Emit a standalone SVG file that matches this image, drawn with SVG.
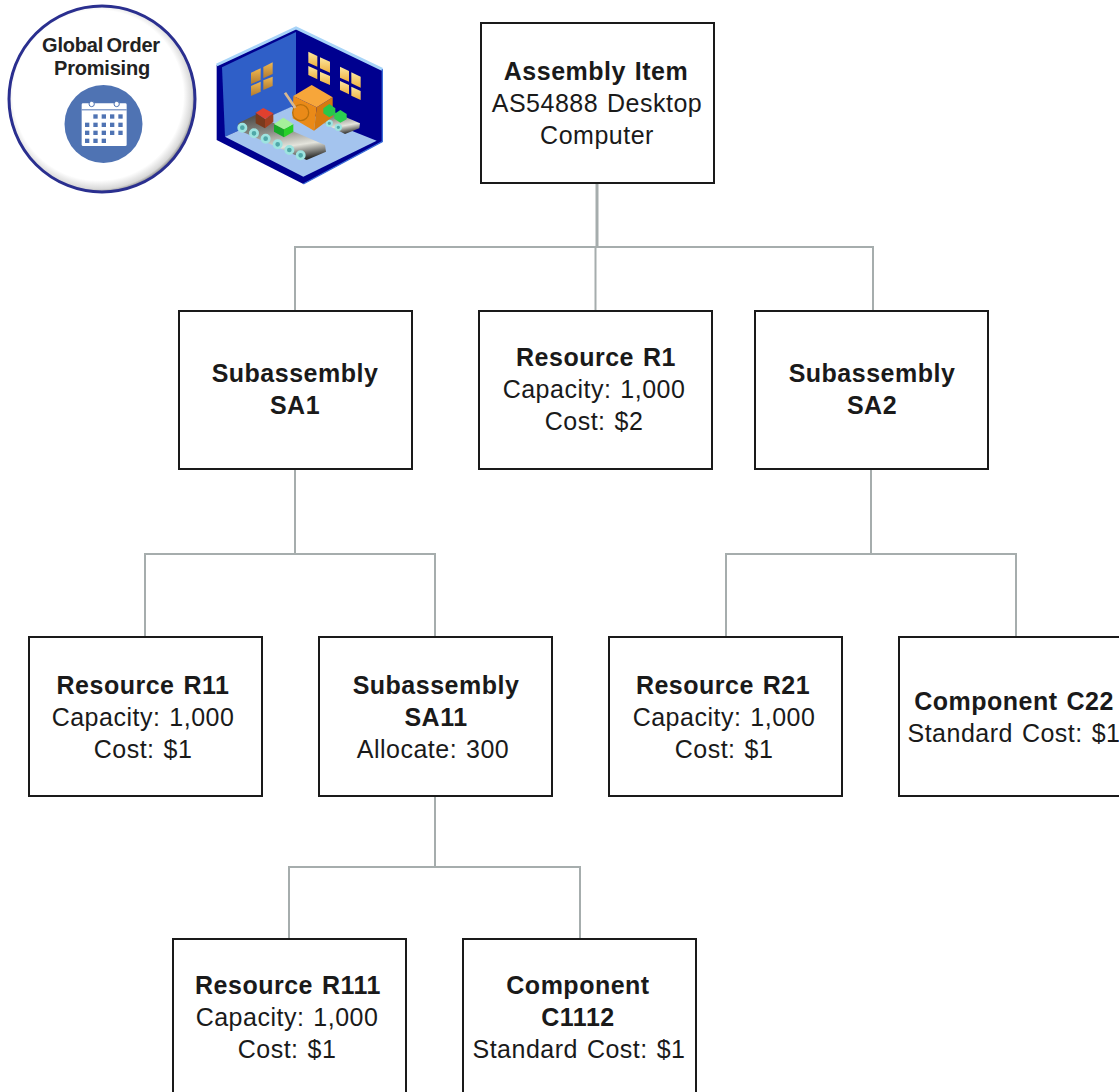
<svg xmlns="http://www.w3.org/2000/svg" width="1119" height="1092" viewBox="0 0 1119 1092">
<style>
.box{fill:#fff;stroke:#1a1a1a;stroke-width:2}
.c{fill:none;stroke:#a6adad;stroke-width:2}
text{font-family:"Liberation Sans",Arial,sans-serif;font-size:25px;fill:#1a1a1a;text-anchor:middle;letter-spacing:.5px;word-spacing:1.500px}
.b{font-weight:bold}
.s{font-size:20px;font-weight:bold;letter-spacing:-.2px;word-spacing:-2px;fill:#222}
.cal{fill:#4f73b3}
.roller{fill:#4fa8a8;stroke:#9ee4e0;stroke-width:8}
.rollerS{fill:#4fa8a8;stroke:#9ee4e0;stroke-width:6}
</style>
<defs>
<radialGradient id="halo" cx=".48" cy=".48" r=".52"><stop offset=".88" stop-color="#fff"/><stop offset=".97" stop-color="#d8d8d8"/><stop offset="1" stop-color="#999"/></radialGradient>
<linearGradient id="belt" x1=".35" y1="0" x2=".65" y2="1"><stop offset="0" stop-color="#55534f"/><stop offset=".35" stop-color="#8a8a84"/><stop offset=".7" stop-color="#e4e4dc"/><stop offset="1" stop-color="#2e2e2c"/></linearGradient>
<linearGradient id="tan" x1="0" y1="0" x2="0" y2="1"><stop offset="0" stop-color="#f0b850"/><stop offset="1" stop-color="#b07a30"/></linearGradient>
<linearGradient id="win" x1="0" y1="0" x2="0" y2="1"><stop offset="0" stop-color="#fce8a0"/><stop offset="1" stop-color="#eeb040"/></linearGradient>
</defs>
<rect width="1119" height="1092" fill="#fff"/>
<g id="connectors">
<path class="c" style="stroke-width:3" d="M597 183V247"/>
<path class="c" d="M295 311V247H873V311M595.500 247V311"/>
<path class="c" d="M295 469V554M145 637V554H435V637"/>
<path class="c" d="M871 469V554M726 637V554H1016V637"/>
<path class="c" d="M435 796V867M289 939V867H580V939"/>
</g>
<g id="badge">
<circle cx="102" cy="99" r="93" fill="url(#halo)" stroke="#2a2f8f" stroke-width="3"/>
<text class="s" x="101" y="52">Global Order</text>
<text class="s" x="102" y="75">Promising</text>
<circle cx="103.500" cy="124" r="39" fill="#4f73b3"/>
<g transform="scale(.33333)">
<rect x="245" y="310" width="135" height="128" rx="4" fill="#fff"/>
<circle cx="275" cy="312" r="8" fill="#fff" stroke="#4f73b3" stroke-width="3"/><circle cx="350" cy="312" r="8" fill="#fff" stroke="#4f73b3" stroke-width="3"/>
<rect class="cal" x="245" y="328" width="135" height="3"/>
<g class="cal">
<rect x="280" y="343" width="13" height="13"/><rect x="305" y="343" width="13" height="13"/><rect x="330" y="343" width="13" height="13"/><rect x="355" y="343" width="13" height="13"/>
<rect x="255" y="368" width="13" height="13"/><rect x="280" y="368" width="13" height="13"/><rect x="305" y="368" width="13" height="13"/><rect x="330" y="368" width="13" height="13"/><rect x="355" y="368" width="13" height="13"/>
<rect x="255" y="392" width="13" height="13"/><rect x="280" y="392" width="13" height="13"/><rect x="305" y="392" width="13" height="13"/><rect x="330" y="392" width="13" height="13"/><rect x="355" y="392" width="13" height="13"/>
<rect x="255" y="416" width="13" height="13"/><rect x="280" y="416" width="13" height="13"/><rect x="305" y="416" width="13" height="13"/>
</g>
</g>
</g>
<g id="factory" transform="translate(210 20) scale(.33333)">
<path d="M20 135L258 22L517 148V365L280 492L20 360Z" fill="#00008f"/>
<path d="M20 135L258 24L517 148" fill="none" stroke="#a8d4f8" stroke-width="9"/>
<path d="M517 148V365L280 492" fill="none" stroke="#3c6fd8" stroke-width="4"/>
<path d="M36 142L258 36V255L45 350Z" fill="#2f5fc8"/>
<path d="M45 350L244 260L500 362L280 470Z" fill="#a4c4ee"/>
<g fill="url(#tan)"><path d="M123 158L152 145V180L123 192Z"/><path d="M160 141L188 127V162L160 175Z"/><path d="M123 198L152 185V215L123 228Z"/><path d="M160 181L188 170V198L160 210Z"/></g>
<g fill="url(#win)"><path d="M295 95L322 108V140L295 128Z"/><path d="M330 112L360 125V158L330 145Z"/><path d="M295 138L322 150V178L295 165Z"/><path d="M330 155L360 168V195L330 182Z"/><path d="M390 140L417 153V185L390 173Z"/><path d="M424 157L452 170V203L424 190Z"/><path d="M390 183L417 195V223L390 210Z"/><path d="M424 200L452 213V240L424 227Z"/></g>
<path d="M320 285L345 265L450 310L448 325L405 342L322 300Z" fill="url(#belt)"/>
<g class="rollerS"><circle cx="335" cy="297" r="8"/><circle cx="358" cy="310" r="8"/><circle cx="385" cy="322" r="8"/></g>
<path d="M250 228L320 262L312 332L248 295Z" fill="#ea8a18"/>
<path d="M320 262L368 232L368 290L312 332Z" fill="#d67a10"/>
<path d="M250 228L305 195L368 232L320 262Z" fill="#f7a63a"/>
<circle cx="272" cy="278" r="24" fill="none" stroke="#b8700c" stroke-width="4"/>
<path d="M225 218L256 264" stroke="#d8b890" stroke-width="8" fill="none"/>
<path d="M85 310L135 285L345 375L348 395L290 420L85 330Z" fill="url(#belt)"/>
<g class="roller"><circle cx="97" cy="323" r="11"/><circle cx="132" cy="340" r="11"/><circle cx="167" cy="356" r="11"/><circle cx="203" cy="373" r="11"/><circle cx="238" cy="390" r="11"/><circle cx="272" cy="406" r="11"/></g>
<path d="M137 278L165 297V325L137 310Z" fill="#7a3a1c"/>
<path d="M165 297L190 280V305L165 325Z" fill="#a04020"/>
<path d="M137 278L160 264L190 280L165 297Z" fill="#e0402e"/>
<path d="M192 312L222 328V352L192 335Z" fill="#16a828"/>
<path d="M222 328L250 312V335L222 352Z" fill="#28d028"/>
<path d="M192 312L220 293L250 312L222 328Z" fill="#a4f09a"/>
<path d="M340 265L358 252L376 265V282L358 292L340 280Z" fill="#28c84a"/>
<path d="M373 282L391 270L410 282V298L391 308L373 296Z" fill="#2cd050"/>
</g>
<g id="n1"><rect class="box" x="481" y="23" width="233" height="160"/><text class="b" x="596" y="80">Assembly Item</text><text x="597" y="112">AS54888 Desktop</text><text x="597" y="144">Computer</text></g>
<g id="n2"><rect class="box" x="179" y="311" width="233" height="158"/><text class="b" x="295" y="382">Subassembly</text><text class="b" x="295" y="414">SA1</text></g>
<g id="n3"><rect class="box" x="479" y="311" width="233" height="158"/><text class="b" x="596" y="366">Resource R1</text><text x="594" y="398">Capacity: 1,000</text><text x="594" y="430">Cost: $2</text></g>
<g id="n4"><rect class="box" x="755" y="311" width="233" height="158"/><text class="b" x="872" y="382">Subassembly</text><text class="b" x="872" y="414">SA2</text></g>
<g id="n5"><rect class="box" x="29" y="637" width="233" height="159"/><text class="b" x="143" y="694">Resource R11</text><text x="143" y="726">Capacity: 1,000</text><text x="143" y="758">Cost: $1</text></g>
<g id="n6"><rect class="box" x="319" y="637" width="233" height="159"/><text class="b" x="436" y="694">Subassembly</text><text class="b" x="436" y="726">SA11</text><text x="433" y="758">Allocate: 300</text></g>
<g id="n7"><rect class="box" x="609" y="637" width="233" height="159"/><text class="b" x="723" y="694">Resource R21</text><text x="724" y="726">Capacity: 1,000</text><text x="724" y="758">Cost: $1</text></g>
<g id="n8"><rect class="box" x="899" y="637" width="233" height="159"/><text class="b" x="1014" y="710">Component C22</text><text x="1014" y="742">Standard Cost: $1</text></g>
<g id="n9"><rect class="box" x="173" y="939" width="233" height="165"/><text class="b" x="288" y="994">Resource R111</text><text x="287" y="1026">Capacity: 1,000</text><text x="287" y="1058">Cost: $1</text></g>
<g id="n10"><rect class="box" x="463" y="939" width="233" height="165"/><text class="b" x="578" y="994">Component</text><text class="b" x="578" y="1026">C1112</text><text x="579" y="1058">Standard Cost: $1</text></g>
</svg>
